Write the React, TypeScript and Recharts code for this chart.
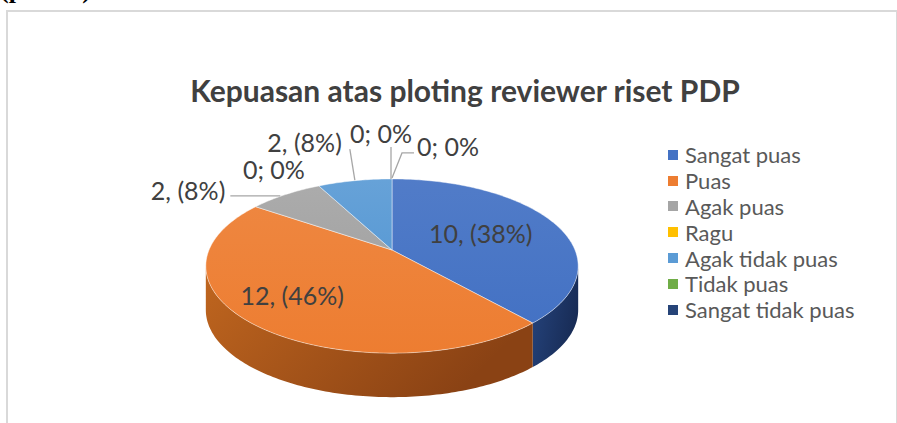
import React from "react";
import { PieChart, Pie, Cell, Legend } from "recharts";

const categories = [
  "Sangat puas",
  "Puas",
  "Agak puas",
  "Ragu",
  "Agak tidak puas",
  "Tidak puas",
  "Sangat tidak puas",
];
const counts = [10, 12, 2, 0, 2, 0, 0];
const labelTexts = ["10, (38%)", "12, (46%)", "2, (8%)", "0; 0%", "2, (8%)", "0; 0%", "0; 0%"];

const topColors = ["#4472C4", "#ED7D31", "#A5A5A5", "#FFC000", "#5B9BD5", "#70AD47", "#264478"];
const sideColors = [
  ["#26457F", "#182C56"],
  ["#C0661F", "#8A4214"],
  ["#7C7C7C", "#5E5E5E"],
  ["#BF9000", "#8F6C00"],
  ["#4174A0", "#2E5676"],
  ["#54823A", "#3E602A"],
  ["#1C335A", "#132340"],
];

const data = categories.map((name, i) => ({ name, value: counts[i] }));

const FONT = "Lato, 'Open Sans', sans-serif";
const SQUASH = 0.46; // vertical squash of the tilted disc
const PERSP = 0.184; // perspective: back of the disc looks smaller
const DEPTH = 44;
const RAD = Math.PI / 180;
// rim angles where the disc's outline is widest (side wall visible between them)
const SIDE_FROM = -180 + Math.asin(PERSP) / RAD;
const SIDE_TO = -Math.asin(PERSP) / RAD;

// label offsets from the slice's rim point: text pos, anchor, leader line points
const labelPlacement: { dx: number; dy: number; anchor: "start" | "middle" | "end"; line?: number[][] }[] = [
  { dx: -72, dy: 11, anchor: "middle" },
  { dx: 41, dy: -28, anchor: "middle" },
  { dx: -60, dy: -5, anchor: "end", line: [[-5, 1.3], [-55, 1.3]] },
  { dx: -45, dy: -17, anchor: "middle" },
  { dx: -13, dy: -38.5, anchor: "end", line: [[0, -0.5], [-5, -31.5]] },
  { dx: -11, dy: -46, anchor: "middle", line: [[-1, 0], [-1, -32]] },
  { dx: 25, dy: -33, anchor: "start", line: [[0, -1], [10, -26], [22, -26]] },
];

function proj(cx: number, cy: number, r: number, a: number) {
  const u = Math.cos(a * RAD);
  const v = Math.sin(a * RAD);
  const w = 1 + PERSP * v;
  return [cx + (r * u) / w, cy - (r * SQUASH * v) / w];
}

function arcPoints(cx: number, cy: number, r: number, a: number, b: number, dy = 0) {
  const n = Math.max(2, Math.ceil(Math.abs(b - a)));
  const pts: string[] = [];
  for (let k = 0; k <= n; k++) {
    const [x, y] = proj(cx, cy, r, a + ((b - a) * k) / n);
    pts.push(`${x.toFixed(2)},${(y + dy).toFixed(2)}`);
  }
  return pts;
}

function Slice3D(props: any) {
  const { cx, cy, outerRadius, startAngle, endAngle } = props;
  const i = categories.indexOf(props.name ?? props.payload?.name);
  if (Math.abs(endAngle - startAngle) < 0.01) return <g />;
  const lo = Math.min(startAngle, endAngle);
  const hi = Math.max(startAngle, endAngle);

  const sides: string[] = [];
  for (const k of [-1, 0, 1]) {
    const a = Math.max(lo, SIDE_FROM + 360 * k);
    const b = Math.min(hi, SIDE_TO + 360 * k);
    if (b - a > 0.01) {
      const upper = arcPoints(cx, cy, outerRadius, a, b);
      const lower = arcPoints(cx, cy, outerRadius, b, a, DEPTH);
      sides.push(`M${upper.join(" L")} L${lower.join(" L")} Z`);
    }
  }

  const rimPts = arcPoints(cx, cy, outerRadius, startAngle, endAngle);
  const top = `M${cx},${cy} L${rimPts.join(" L")} Z`;

  return (
    <g>
      <defs>
        <linearGradient id={`side-${i}`} x1="0" y1="0" x2="1" y2="0.4">
          <stop offset="0%" stopColor={sideColors[i][0]} />
          <stop offset="100%" stopColor={sideColors[i][1]} />
        </linearGradient>
        <linearGradient id={`top-${i}`} x1="0" y1="0" x2="0" y2="1">
          <stop offset="0%" stopColor={topColors[i]} stopOpacity={0.93} />
          <stop offset="100%" stopColor={topColors[i]} />
        </linearGradient>
      </defs>
      {sides.map((d, k) => (
        <path key={k} d={d} fill={`url(#side-${i})`} stroke="none" />
      ))}
      <path d={top} fill={`url(#top-${i})`} stroke="rgba(255,255,255,0.45)" strokeWidth={1} strokeLinejoin="round" />
    </g>
  );
}

function renderLabel(props: any) {
  const { cx, cy, midAngle, outerRadius } = props;
  const i = categories.indexOf(props.name ?? props.payload?.name);
  const p = labelPlacement[i];
  const [ax, ay] = proj(cx, cy, outerRadius, midAngle);
  return (
    <g key={`lbl-${i}`}>
      {p.line && (
        <polyline
          points={p.line.map(([x, y]) => `${ax + x},${ay + y}`).join(" ")}
          fill="none"
          stroke="#a6a6a6"
          strokeWidth={1.3}
        />
      )}
      <text
        x={ax + p.dx}
        y={ay + p.dy}
        textAnchor={p.anchor}
        dominantBaseline="central"
        fontFamily={FONT}
        fontSize={25}
        fill="#404040"
      >
        {labelTexts[i]}
      </text>
    </g>
  );
}

function renderLegend(props: any) {
  const items = [...(props.payload || [])].sort(
    (a: any, b: any) => categories.indexOf(a.value) - categories.indexOf(b.value)
  );
  return (
    <div style={{ fontFamily: FONT, fontSize: 22, color: "#595959" }}>
      {items.map((it: any, k: number) => (
        <div key={k} style={{ display: "flex", alignItems: "center", height: 25.8, whiteSpace: "nowrap" }}>
          <span style={{ width: 10, height: 10, background: it.color, marginRight: 7, display: "inline-block" }} />
          {it.value}
        </div>
      ))}
    </div>
  );
}

export default function App() {
  return (
    <div style={{ position: "absolute", left: 0, top: 0, width: 897, height: 423, overflow: "hidden", background: "#fff" }}>
      <div
        style={{
          position: "absolute",
          left: 0,
          top: -23,
          fontFamily: "'Liberation Serif', 'Times New Roman', serif",
          fontWeight: "bold",
          fontSize: 26,
          lineHeight: "26px",
          color: "#000",
        }}
      >
        (persen)
      </div>
      <div
        style={{
          position: "absolute",
          left: 6,
          top: 10,
          width: 888,
          height: 440,
          borderLeft: "2px solid #d9d9d9",
          borderTop: "2px solid #d9d9d9",
          borderRight: "2px solid #d9d9d9",
        }}
      />
      <div
        style={{
          position: "absolute",
          left: 0,
          top: 70,
          width: 930,
          textAlign: "center",
          fontFamily: FONT,
          fontWeight: "bold",
          fontSize: 30,
          lineHeight: "40px",
          color: "#404040",
        }}
      >
        Kepuasan atas ploting reviewer riset PDP
      </div>
      <div style={{ position: "absolute", left: 0, top: 0 }}>
        <PieChart width={897} height={423} margin={{ top: 0, right: 0, bottom: 0, left: 0 }}>
          <Pie
            data={data}
            dataKey="value"
            nameKey="name"
            cx={392}
            cy={250}
            outerRadius={183}
            startAngle={90}
            endAngle={-270}
            shape={Slice3D}
            label={renderLabel}
            labelLine={false}
            isAnimationActive={false}
            stroke="none"
          >
            {data.map((d, i) => (
              <Cell key={d.name} fill={topColors[i]} />
            ))}
          </Pie>
          <Legend
            layout="vertical"
            verticalAlign="top"
            align="right"
            wrapperStyle={{ top: 142, left: 668, width: 225 }}
            content={renderLegend}
          />
        </PieChart>
      </div>
    </div>
  );
}
